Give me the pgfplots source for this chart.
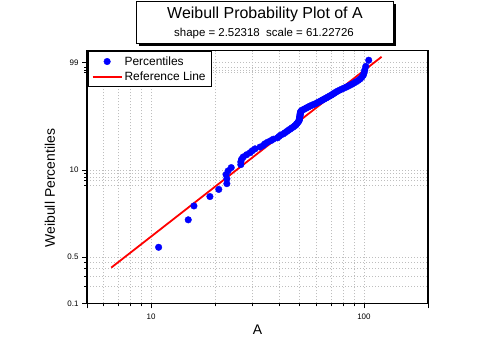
\documentclass[border=0pt]{standalone}
\usepackage{fontspec}
\setmainfont{Liberation Sans}
\usepackage{pgfplots}
\pgfplotsset{compat=1.18}
\definecolor{ptblue}{RGB}{0,0,255}
\definecolor{refred}{RGB}{255,0,0}
\definecolor{gridgray}{RGB}{190,190,190}
\pgfplotsset{
  legimgmark/.style={legend image code/.code={\draw[mark repeat=2,mark phase=2,##1] plot coordinates {(0bp,0bp) (14.5bp,0bp) (29bp,0bp)};}},
  legimgline/.style={legend image code/.code={\draw[##1] (0bp,0bp) -- (29bp,0bp);}},
}
\pgfplotstableread{
x v
10.85 -4.9467
14.95 -3.9853
15.9 -3.5001
18.9 -3.1715
20.8 -2.9220
22.7 -2.7202
22.7 -2.5506
22.5 -2.4039
23.0 -2.2745
23.8 -2.1586
26.4 -2.0535
26.4 -1.9572
26.6 -1.8683
27.1 -1.7856
28.1 -1.7082
29.2 -1.6354
29.9 -1.5667
30.8 -1.5015
32.5 -1.4395
33.7 -1.3802
34.3 -1.3235
35.3 -1.2691
36.5 -1.2167
37.5 -1.1661
39.2 -1.1173
39.9 -1.0700
40.6 -1.0241
41.8 -0.9796
42.6 -0.9362
43.4 -0.8940
44.2 -0.8528
45.0 -0.8125
45.8 -0.7732
46.6 -0.7346
47.3 -0.6968
48.0 -0.6597
48.3 -0.6233
48.8 -0.5875
49.2 -0.5522
49.6 -0.5174
49.7 -0.4832
49.7 -0.4494
49.9 -0.4159
49.9 -0.3829
50.1 -0.3502
50.1 -0.3178
50.1 -0.2857
50.3 -0.2539
50.3 -0.2222
50.5 -0.1908
51.0 -0.1596
51.9 -0.1285
52.9 -0.0975
53.8 -0.0666
54.8 -0.0358
55.8 -0.0049
57.0 0.0259
58.3 0.0567
59.6 0.0876
60.6 0.1186
61.8 0.1497
62.9 0.1809
64.0 0.2124
65.2 0.2440
66.4 0.2760
67.6 0.3083
68.8 0.3410
70.1 0.3741
71.3 0.4077
72.4 0.4419
73.7 0.4768
75.0 0.5124
76.7 0.5489
78.6 0.5864
80.7 0.6250
83.0 0.6650
85.1 0.7066
87.3 0.7500
89.6 0.7956
91.8 0.8440
94.2 0.8956
96.2 0.9514
98.0 1.0127
99.4 1.0813
100.2 1.1607
100.9 1.2571
102.0 1.3850
105.3 1.5994
}\pctdata
\pgfplotstableread{
x v
6.5 -5.6590
121 1.7188
}\refdata
\begin{document}
\begin{tikzpicture}[x=1bp,y=1bp]
\useasboundingbox (0,0) rectangle (500,353);
\begin{axis}[
  at={(87bp,49.7bp)}, anchor=south west,
  scale only axis, width=341bp, height=252.6bp,
  xmode=log, log basis x=10, xmin=5, xmax=200,
  ymin=-6.9073, ymax=1.9326,
  xtick={5,10,100,200}, xticklabels={,10,100,},
  minor xtick={6,7,8,9,20,30,40,50,60,70,80,90},
  ytick={-6.9073,-5.2958,-2.2504,1.5272}, yticklabels={0.1,0.5,10,99},
  minor ytick={1.3640,1.2547,1.1690,-2.3612,-2.4843,-2.6233,-2.7827,-5.483,-5.693,-5.973,-6.323},
  grid=both,
  major grid style={gridgray, line width=0.8bp, dash pattern=on 1bp off 2bp},
  minor grid style={gridgray, line width=0.8bp, dash pattern=on 1bp off 2bp},
  tick pos=left, tick align=outside,
  major tick length=5bp, minor tick length=3bp,
  every tick/.style={black, line width=0.8bp},
  axis line style={line width=1.2bp},
  ticklabel style={font=\fontsize{8}{9}\selectfont},
  xticklabel style={yshift=-2.5bp},
  xlabel={A}, ylabel={Weibull Percentiles},
  label style={font=\fontsize{14}{16}\selectfont},
  xlabel style={at={(axis description cs:0.5,-0.106)}, anchor=center},
  ylabel style={at={(axis description cs:-0.1085,0.456)}, anchor=center},
  legend style={at={(0,1)}, anchor=north west, draw=black, line width=1.5bp, fill=white,
    font=\fontsize{12}{14}\selectfont, inner xsep=4bp, inner ysep=3bp, row sep=1bp},
  legend cell align=left,
]
\addplot[only marks, mark=*, mark size=3.3bp, color=ptblue, mark options={fill=ptblue, draw=ptblue, line width=0.4bp}, legimgmark]
  table[x=x, y=v] {\pctdata};
\addlegendentry{Percentiles}
\addplot[refred, line width=1.8bp, no marks, legimgline]
  table[x=x, y=v] {\refdata};
\addlegendentry{Reference Line}
\end{axis}
\fill[black] (139,307) rectangle (396,349);
\filldraw[fill=white, draw=black, line width=0.8bp] (136,310) rectangle (393,352);
\node[anchor=base, font=\fontsize{16}{18}\selectfont, inner sep=0pt] at (265,334.7) {Weibull Probability Plot of A};
\node[anchor=base, font=\fontsize{11.5}{13}\selectfont, inner sep=0pt] at (264,317) {shape = 2.52318\ \ scale = 61.22726};
\end{tikzpicture}
\end{document}
